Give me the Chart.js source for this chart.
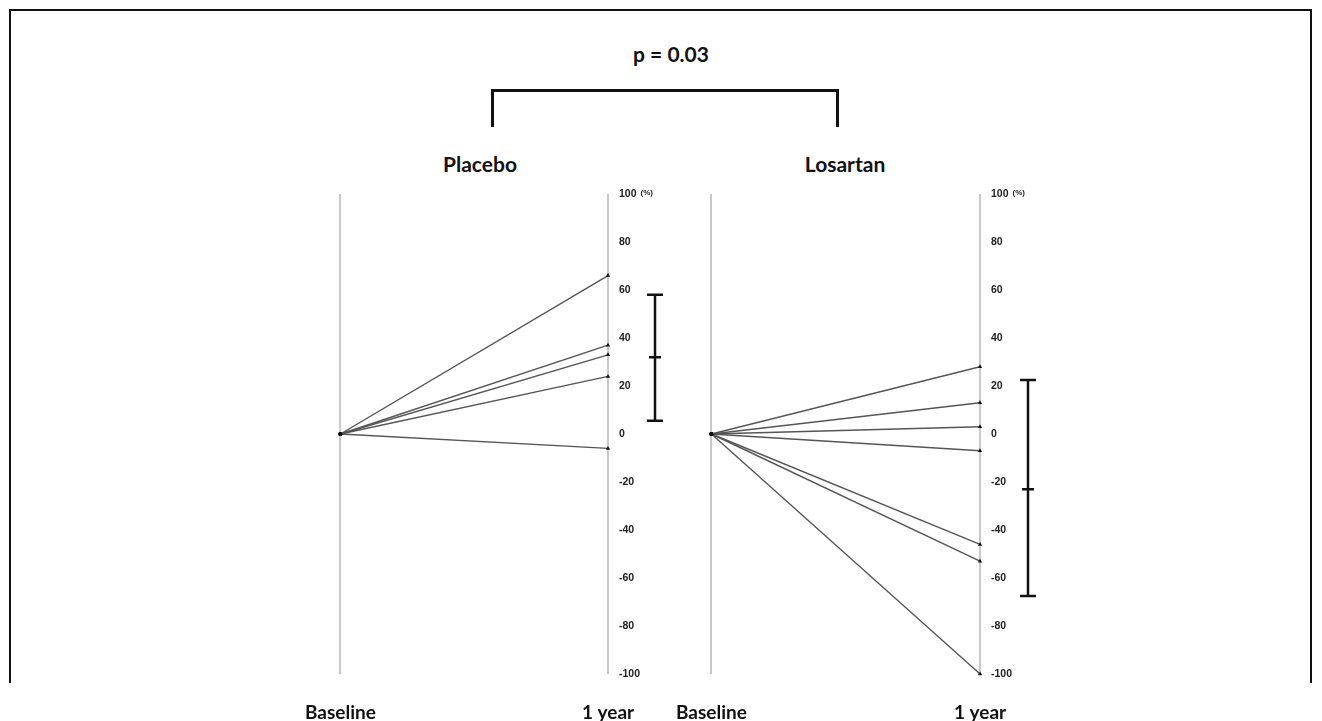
<!DOCTYPE html>
<html>
<head>
<meta charset="utf-8">
<script src="https://cdn.jsdelivr.net/npm/chart.js@4/dist/chart.umd.min.js"></script>
<style>
  html, body { margin: 0; padding: 0; background: #fff; }
  body { width: 1322px; height: 721px; overflow: hidden; position: relative; font-family: Lato, "Open Sans", sans-serif; }
  .frame { position: absolute; left: 9px; top: 9px; width: 1299px; height: 672px; border: 2px solid #111; border-bottom: none; }
  .label { position: absolute; font-weight: bold; color: #111; white-space: nowrap; transform: translate(-50%, -50%); }
  .bracket { position: absolute; left: 491px; top: 89px; width: 348px; height: 38px; box-sizing: border-box; border: 3px solid #111; border-bottom: none; }
  .panel { position: absolute; }
</style>
</head>
<body>
<div class="frame"></div>
<div class="label" style="left:671px; top:53px; font-size:21px;">p = 0.03</div>
<div class="bracket"></div>
<div class="label" style="left:480px; top:163px; font-size:21px;">Placebo</div>
<div class="label" style="left:845px; top:163px; font-size:21px;">Losartan</div>
<div class="panel" style="left:278px; top:150px;"><canvas id="placeboChart" width="390" height="574"></canvas></div>
<div class="panel" style="left:649px; top:150px;"><canvas id="losartanChart" width="391" height="574"></canvas></div>

<script>
// Change from baseline to 1 year (%), one value per patient
const timeLabels = ['Baseline', '1 year'];
const placeboChange = [66, 37, 33, 24, -6];
const losartanChange = [28, 13, 3, -7, -46, -53, -100];
// error bars: [low, mean, high]
const placeboBar = [5.5, 32, 58];
const losartanBar = [-67.5, -23, 22.5];
const yTicksMin = -100;
const yTicksMax = 100;
const yTickStep = 20;
const yUnit = '(%)';

const tickFont = { family: '"Liberation Sans", Arial', weight: 'bold', size: 10.5 };

// Draws the mean +/- SD bar to the right of the axis labels, plus the unit next to the top tick
const errorBarPlugin = {
  id: 'errorBar',
  afterDraw(chart, args, opts) {
    const y = chart.scales.y;
    const ctx = chart.ctx;
    const x = chart.chartArea.right + opts.offset;
    const [low, mean, high] = opts.values;
    ctx.save();
    ctx.strokeStyle = '#111';
    ctx.lineWidth = 2.5;
    ctx.beginPath();
    ctx.moveTo(x, y.getPixelForValue(high));
    ctx.lineTo(x, y.getPixelForValue(low));
    [low, high].forEach(v => {
      const py = y.getPixelForValue(v);
      ctx.moveTo(x - 8, py);
      ctx.lineTo(x + 8, py);
    });
    const pm = y.getPixelForValue(mean);
    ctx.moveTo(x - 6, pm);
    ctx.lineTo(x + 6, pm);
    ctx.stroke();

    // unit label after "100"
    ctx.font = `bold ${tickFont.size}px ${tickFont.family}`;
    const w = ctx.measureText(String(yTicksMax)).width;
    ctx.font = `bold 8px ${tickFont.family}`;
    ctx.fillStyle = '#222';
    ctx.textBaseline = 'middle';
    ctx.fillText(yUnit, chart.chartArea.right + 11 + w + 4, y.getPixelForValue(yTicksMax) - 1);
    ctx.restore();
  }
};

function subjectLines(values) {
  return values.map(v => ({
    data: [{ x: 0, y: 0 }, { x: 1, y: v }],
    borderColor: '#555',
    borderWidth: 1.4,
    pointStyle: ['circle', 'triangle'],
    pointRadius: [2, 2.5],
    pointBackgroundColor: '#111',
    pointBorderColor: '#111',
    pointBorderWidth: 0,
    clip: false
  }));
}

function initializePanel(canvasId, values, bar, barOffset) {
  const ctx = document.getElementById(canvasId)?.getContext('2d');
  if (!ctx) {
    console.warn('Canvas not found:', canvasId);
    return;
  }
  return new Chart(ctx, {
    type: 'line',
    data: { datasets: subjectLines(values) },
    plugins: [errorBarPlugin],
    options: {
      responsive: false,
      animation: false,
      layout: { padding: { left: 0, top: 44, right: 0, bottom: 0 } },
      plugins: {
        legend: { display: false },
        tooltip: { enabled: false },
        errorBar: { values: bar, offset: barOffset }
      },
      scales: {
        x: {
          type: 'linear',
          min: 0,
          max: 1,
          border: { display: false },
          grid: { color: '#c8c8c8', lineWidth: 2, drawTicks: false },
          ticks: {
            stepSize: 1,
            padding: 27,
            color: '#111',
            font: { family: 'Lato', weight: 'bold', size: 19 },
            callback: v => timeLabels[v]
          },
          afterFit: s => { s.height = 50; }
        },
        y: {
          position: 'right',
          min: yTicksMin,
          max: yTicksMax,
          border: { display: false },
          grid: { display: false, drawTicks: false },
          ticks: {
            stepSize: yTickStep,
            padding: 11,
            color: '#222',
            font: tickFont
          },
          afterFit: s => { s.width = 60; }
        }
      }
    }
  });
}

try {
  initializePanel('placeboChart', placeboChange, placeboBar, 47);
  initializePanel('losartanChart', losartanChange, losartanBar, 48);
} catch (error) {
  console.error('Error initializing charts:', error);
}
</script>
</body>
</html>
